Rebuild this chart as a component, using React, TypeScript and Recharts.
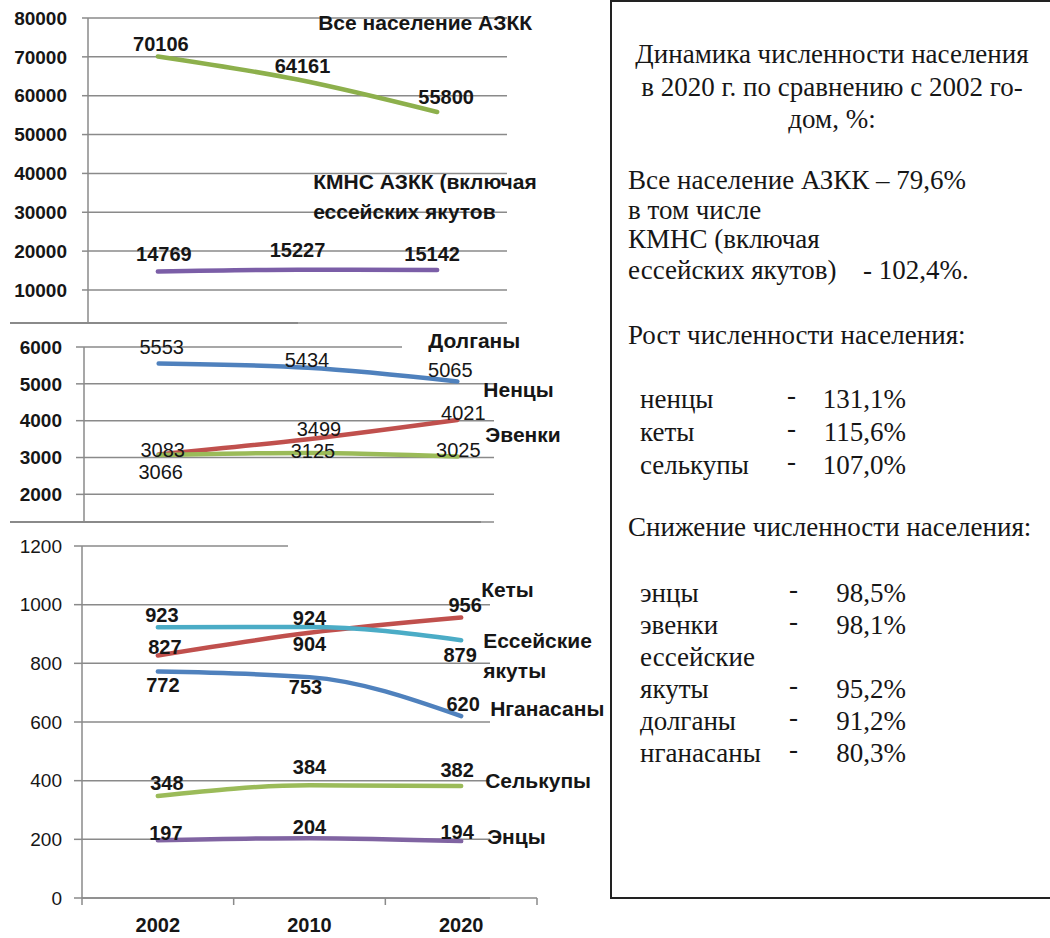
import React from 'react';
import { LineChart, Line, XAxis, YAxis, CartesianGrid, LabelList } from 'recharts';

const years = ['2002', '2010', '2020'];

// верхний график
const allPopulation = [70106, 64161, 55800];
const kmnsPopulation = [14769, 15227, 15142];

// средний график
const dolgany = [5553, 5434, 5065];
const nentsy = [3083, 3499, 4021];
const evenki = [3066, 3125, 3025];

// нижний график
const entsy = [197, 204, 194];
const selkupy = [348, 384, 382];
const nganasany = [772, 753, 620];
const kety = [827, 904, 956];
const esseyYakuty = [923, 924, 879];

const topTicks = [10000, 20000, 30000, 40000, 50000, 60000, 70000, 80000];
const midTicks = [2000, 3000, 4000, 5000, 6000];
const bottomTicks = [0, 200, 400, 600, 800, 1000, 1200];

// текст справа
const headerLines = ['Динамика численности населения', 'в 2020 г. по сравнению с 2002 го-', 'дом, %:'];
const totalLines = ['Все население АЗКК – 79,6%', 'в том числе', 'КМНС (включая'];
const kmnsLine = ['ессейских якутов)', '- 102,4%.'];
const growthTitle = 'Рост численности населения:';
const growthNames = ['ненцы', 'кеты', 'селькупы'];
const growthValues = ['131,1%', '115,6%', '107,0%'];
const declineTitle = 'Снижение численности населения:';
const declineNames = ['энцы', 'эвенки', 'ессейские', 'якуты', 'долганы', 'нганасаны'];
const declineValues = ['98,5%', '98,1%', '', '95,2%', '91,2%', '80,3%'];

const sans = '"Liberation Sans", Arial, sans-serif';
const serif = '"Liberation Serif", "DejaVu Serif", "Noto Serif", "Times New Roman", serif';
const gridColor = '#8a8a8a';
const textColor = '#161616';

type Series = {
  key: string;
  values: number[];
  color: string;
  offsets: number[][];
  name: string[];
  nameAt: number[];
};

const topSeries: Series[] = [
  { key: 'all', values: allPopulation, color: '#8db04c', offsets: [[3, -12], [5, -14], [9, -15]], name: ['Все население АЗКК'], nameAt: [-119, -90] },
  { key: 'kmns', values: kmnsPopulation, color: '#7b5ea7', offsets: [[6, -17], [0, -20], [-5, -16]], name: ['КМНС АЗКК (включая', 'ессейских якутов'], nameAt: [-124, -88] },
];

const midSeries: Series[] = [
  { key: 'dolgany', values: dolgany, color: '#4f81bd', offsets: [[3, -16], [-1, -8], [-7, -11]], name: ['Долганы'], nameAt: [-29, -41] },
  { key: 'nentsy', values: nentsy, color: '#c0504d', offsets: [[4, -4], [11, -10], [6, -7]], name: ['Ненцы'], nameAt: [26, -30] },
  { key: 'evenki', values: evenki, color: '#9bbb59', offsets: [[2, 17], [5, -2], [1, -7]], name: ['Эвенки'], nameAt: [28, -22] },
];

const bottomSeries: Series[] = [
  { key: 'entsy', values: entsy, color: '#8064a2', offsets: [[8, -7], [0, -11], [-4, -9]], name: ['Энцы'], nameAt: [26, -5] },
  { key: 'selkupy', values: selkupy, color: '#9bbb59', offsets: [[9, -13], [0, -18], [-4, -16]], name: ['Селькупы'], nameAt: [24, -5] },
  { key: 'nganasany', values: nganasany, color: '#4f81bd', offsets: [[5, 13], [-4, 10], [2, -12]], name: ['Нганасаны'], nameAt: [29, -8] },
  { key: 'kety', values: kety, color: '#c0504d', offsets: [[7, -8], [0, 11], [4, -13]], name: ['Кеты'], nameAt: [20, -28] },
  { key: 'essey', values: esseyYakuty, color: '#4bacc6', offsets: [[4, -12], [0, -9], [-1, 15]], name: ['Ессейские', 'якуты'], nameAt: [22, 0] },
];

const buildData = (series: Series[]) =>
  years.map((year, i) => {
    const row: Record<string, string | number> = { year };
    series.forEach((s) => {
      row[s.key] = s.values[i];
    });
    return row;
  });

const makeLabel = (s: Series, weight: string) => (props: any) => {
  const x = props.x ?? props.viewBox?.x;
  const y = props.y ?? props.viewBox?.y;
  const { value, index } = props;
  const [dx, dy] = s.offsets[index];
  return (
    <g key={`${s.key}-${index}`}>
      <text x={x + dx} y={y + dy} textAnchor="middle" dominantBaseline="central" fontFamily={sans} fontSize={20} fontWeight={weight} fill={textColor}>
        {value}
      </text>
      {index === s.values.length - 1 &&
        s.name.map((line, k) => (
          <text key={k} x={x + s.nameAt[0]} y={y + s.nameAt[1] + k * 30} textAnchor="start" dominantBaseline="central" fontFamily={sans} fontSize={21} fontWeight="bold" fill={textColor}>
            {line}
          </text>
        ))}
    </g>
  );
};

const gridRenderer = (plotTop: number, topEnd: number, end: number) => (props: any) => {
  const { x1, y1, x2, y2 } = props;
  const limit = Math.abs(y1 - plotTop) < 1 ? topEnd : end;
  return <line key={`g-${y1}`} x1={x1} y1={y1} x2={Math.min(x2, limit)} y2={y2} stroke={gridColor} strokeWidth={1.5} />;
};

// положение областей построения (px)
const TOP_LEFT = 88;
const TOP_RIGHT = 507;
const MID_LEFT = 84;
const MID_RIGHT = 532;
const BOTTOM_LEFT = 82;
const BOTTOM_RIGHT = 537;
const halfBand = (l: number, r: number) => (r - l) / years.length / 2;

const YearTick = (props: any) => {
  const { x, y, payload, index } = props;
  const half = halfBand(BOTTOM_LEFT, BOTTOM_RIGHT);
  return (
    <g>
      <line x1={x - half} y1={y} x2={x - half} y2={y + 7} stroke={gridColor} strokeWidth={1.5} />
      {index === years.length - 1 && <line x1={x + half} y1={y} x2={x + half} y2={y + 7} stroke={gridColor} strokeWidth={1.5} />}
      <text x={x} y={y + 27} textAnchor="middle" dominantBaseline="central" fontFamily={sans} fontSize={20} fontWeight="bold" fill={textColor}>
        {payload.value}
      </text>
    </g>
  );
};

const renderLines = (series: Series[], weight: string) =>
  series.map((s) => (
    <Line
      key={s.key}
      type="monotone"
      dataKey={s.key}
      stroke={s.color}
      strokeWidth={4.5}
      strokeLinecap="round"
      dot={false}
      activeDot={false}
      isAnimationActive={false}
    >
      <LabelList dataKey={s.key} content={makeLabel(s, weight)} />
    </Line>
  ));

const Rule = ({ x1, x2, y }: { x1: number; x2: number; y: number }) => (
  <div style={{ position: 'absolute', left: x1, top: y - 1, width: x2 - x1, height: 1.5, background: gridColor }} />
);

const Box = () => {
  const at = (baseline: number) => baseline - 22.6 - 2;
  const base: React.CSSProperties = { position: 'absolute', whiteSpace: 'nowrap', lineHeight: '27px' };
  const left = (x: number) => x - 612;
  return (
    <div
      style={{
        position: 'absolute',
        left: 610,
        top: 0,
        width: 440,
        height: 899,
        boxSizing: 'border-box',
        borderTop: '2px solid #222',
        borderLeft: '2px solid #222',
        borderBottom: '2px solid #222',
        fontFamily: serif,
        fontSize: 27,
        color: textColor,
      }}
    >
      {headerLines.map((t, i) => (
        <div key={t} style={{ ...base, left: 10, width: 420, textAlign: 'center', top: at(64 + i * 32.5) }}>
          {t}
        </div>
      ))}
      {totalLines.map((t, i) => (
        <div key={t} style={{ ...base, left: left(628), top: at(190 + i * 29.5) }}>
          {t}
        </div>
      ))}
      <div style={{ ...base, left: left(628), top: at(280) }}>{kmnsLine[0]}</div>
      <div style={{ ...base, left: left(863), top: at(280) }}>{kmnsLine[1]}</div>
      <div style={{ ...base, left: left(628), top: at(345) }}>{growthTitle}</div>
      {growthNames.map((t, i) => (
        <React.Fragment key={t}>
          <div style={{ ...base, left: left(640), top: at(409 + i * 33) }}>{t}</div>
          <div style={{ ...base, left: left(787), top: at(405 + i * 33) }}>-</div>
          <div style={{ ...base, right: 1050 - 906, top: at(409 + i * 33) }}>{growthValues[i]}</div>
        </React.Fragment>
      ))}
      <div style={{ ...base, left: left(628), top: at(537) }}>{declineTitle}</div>
      {declineNames.map((t, i) => (
        <React.Fragment key={t}>
          <div style={{ ...base, left: left(640), top: at(603 + i * 32) }}>{t}</div>
          {declineValues[i] && <div style={{ ...base, left: left(789), top: at(599 + i * 32) }}>-</div>}
          {declineValues[i] && <div style={{ ...base, right: 1050 - 906, top: at(603 + i * 32) }}>{declineValues[i]}</div>}
        </React.Fragment>
      ))}
    </div>
  );
};

export default function App() {
  const tickStyle = (weight: string) => ({ fill: textColor, fontSize: 19, fontFamily: sans, fontWeight: weight });
  const topPad = halfBand(TOP_LEFT, TOP_RIGHT);
  const midPad = halfBand(MID_LEFT, MID_RIGHT);
  const bottomPad = halfBand(BOTTOM_LEFT, BOTTOM_RIGHT);
  return (
    <div style={{ position: 'absolute', left: 0, top: 0, width: 1050, height: 938, overflow: 'hidden', background: '#fff' }}>
      <div style={{ position: 'absolute', left: 0, top: 0 }}>
        <LineChart width={600} height={341} data={buildData(topSeries)} margin={{ top: 18, right: 600 - TOP_RIGHT, bottom: 18, left: 0 }}>
          <CartesianGrid vertical={false} horizontal={gridRenderer(18, TOP_RIGHT, TOP_RIGHT)} />
          <XAxis dataKey="year" hide padding={{ left: topPad, right: topPad }} />
          <YAxis
            width={TOP_LEFT}
            domain={[1500, 80000]}
            ticks={topTicks}
            interval={0}
            tickSize={6}
            tickMargin={15}
            tick={tickStyle('bold')}
            axisLine={{ stroke: gridColor, strokeWidth: 1.5 }}
            tickLine={{ stroke: gridColor, strokeWidth: 1.5 }}
          />
          {renderLines(topSeries, 'bold')}
        </LineChart>
      </div>
      <Rule x1={10} x2={298} y={323} />

      <div style={{ position: 'absolute', left: 0, top: 330 }}>
        <LineChart width={600} height={200} data={buildData(midSeries)} margin={{ top: 17, right: 600 - MID_RIGHT, bottom: 8, left: 0 }}>
          <CartesianGrid vertical={false} horizontal={gridRenderer(17, 402, 494)} />
          <XAxis dataKey="year" hide padding={{ left: midPad, right: midPad }} />
          <YAxis
            width={MID_LEFT}
            domain={[1250, 6000]}
            ticks={midTicks}
            interval={0}
            tickSize={8}
            tickMargin={14}
            tick={tickStyle('bold')}
            axisLine={{ stroke: gridColor, strokeWidth: 1.5 }}
            tickLine={{ stroke: gridColor, strokeWidth: 1.5 }}
          />
          {renderLines(midSeries, 'normal')}
        </LineChart>
      </div>
      <Rule x1={10} x2={481} y={522} />

      <div style={{ position: 'absolute', left: 0, top: 530 }}>
        <LineChart width={620} height={408} data={buildData(bottomSeries)} margin={{ top: 16, right: 620 - BOTTOM_RIGHT, bottom: 0, left: 0 }}>
          <CartesianGrid vertical={false} horizontal={gridRenderer(16, 288, 490)} />
          <XAxis
            dataKey="year"
            height={40}
            interval={0}
            tickSize={0}
            tickMargin={0}
            tickLine={false}
            padding={{ left: bottomPad, right: bottomPad }}
            tick={<YearTick />}
            axisLine={{ stroke: gridColor, strokeWidth: 1.5 }}
          />
          <YAxis
            width={BOTTOM_LEFT}
            domain={[0, 1200]}
            ticks={bottomTicks}
            interval={0}
            tickSize={8}
            tickMargin={12}
            tick={tickStyle('normal')}
            axisLine={{ stroke: gridColor, strokeWidth: 1.5 }}
            tickLine={{ stroke: gridColor, strokeWidth: 1.5 }}
          />
          {renderLines(bottomSeries, 'bold')}
        </LineChart>
      </div>

      <Box />
    </div>
  );
}
